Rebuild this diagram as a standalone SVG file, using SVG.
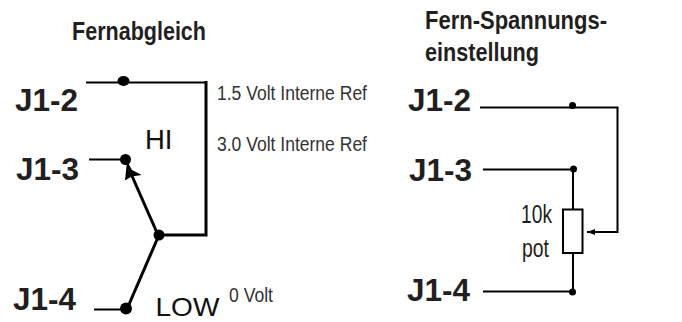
<svg xmlns="http://www.w3.org/2000/svg" width="682" height="322" viewBox="0 0 682 322">
<style>
text{font-family:"Liberation Sans",Arial,sans-serif;fill:#231f20}
.j{font-size:31.500px;font-weight:bold}
.t{font-size:25px;font-weight:bold}
.s{font-size:20px;fill:#333}
.big{font-size:27.500px;fill:#111}
.mid{font-size:26px}
.w{fill:none;stroke:#000;stroke-width:2}
.w3{fill:none;stroke:#000;stroke-width:3}
</style>
<rect width="682" height="322" fill="#fff"/>
<g id="connectors">
<path class="w" d="M86 82.500H206"/>
<path class="w3" d="M206 81V235H159"/>
<path class="w" d="M89 159.500H125"/>
<path class="w" d="M94 309.500H126"/>
<path class="w3" d="M159 235L127 309"/>
<path class="w3" d="M158 235L132 176"/>
<path fill="#000" d="M127 161L125 180.500L131.500 176.500L141.700 175L132 170Z"/>
<path class="w" d="M480 107.500H617.500V232H587"/>
<path d="M587 232L595 229V235Z" fill="#000"/>
<path class="w" d="M483 169.500H573V291.500H483"/>
</g>
<g id="fernabgleich"><text class="t" x="72" y="40" textLength="134" lengthAdjust="spacingAndGlyphs">Fernabgleich</text></g>
<g id="fern-spannung"><text class="t" x="425" y="29" textLength="182" lengthAdjust="spacingAndGlyphs">Fern-Spannungs-</text><text class="t" x="425" y="61" textLength="114" lengthAdjust="spacingAndGlyphs">einstellung</text></g>
<g id="j1-2-left"><text class="j" x="15" y="111">J1-2</text><ellipse cx="123.500" cy="81" rx="6" ry="5"/></g>
<g id="j1-3-left"><text class="j" x="16" y="180">J1-3</text><circle cx="125.500" cy="159.500" r="5.500"/></g>
<g id="j1-4-left"><text class="j" x="13" y="310">J1-4</text><circle cx="126" cy="308.500" r="6"/></g>
<g id="switch-common"><circle cx="159" cy="235" r="5.500"/></g>
<g id="hi"><text class="big" x="145" y="149">HI</text></g>
<g id="low"><text class="big" x="155.500" y="316" font-size="26.500" style="font-size:26.500px" textLength="64" lengthAdjust="spacingAndGlyphs">LOW</text></g>
<g id="labels">
<text class="s" x="217" y="100" textLength="150" lengthAdjust="spacingAndGlyphs">1.5 Volt Interne Ref</text>
<text class="s" x="217" y="151" textLength="150" lengthAdjust="spacingAndGlyphs">3.0 Volt Interne Ref</text>
<text class="s" x="229" y="302" textLength="44" lengthAdjust="spacingAndGlyphs">0 Volt</text>
</g>
<g id="j1-2-right"><text class="j" x="408" y="111">J1-2</text><circle cx="572.500" cy="105.500" r="3.500"/></g>
<g id="j1-3-right"><text class="j" x="409" y="181">J1-3</text><circle cx="573.500" cy="169" r="3.500"/></g>
<g id="j1-4-right"><text class="j" x="407" y="300.500">J1-4</text><circle cx="572.500" cy="292" r="3.500"/></g>
<g id="pot"><rect x="563" y="209.500" width="19.500" height="43.500" fill="#fff" stroke="#000" stroke-width="2"/>
<text class="mid" x="521" y="223" textLength="31" lengthAdjust="spacingAndGlyphs">10k</text>
<text class="mid" x="522" y="257" textLength="27" lengthAdjust="spacingAndGlyphs">pot</text></g>
</svg>
